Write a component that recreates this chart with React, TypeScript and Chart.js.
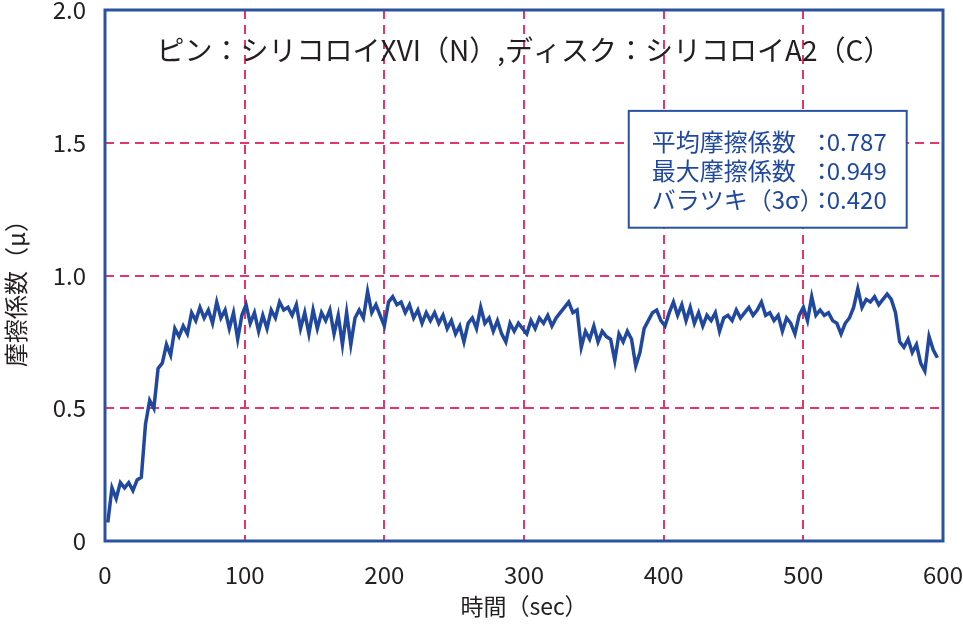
import { useEffect, useRef } from 'react';
import { Chart, registerables } from 'chart.js';

Chart.register(...registerables);

const TITLE = 'ピン：シリコロイXVI（N）,ディスク：シリコロイA2（C）';
const X_TITLE = '時間（sec）';
const Y_TITLE = '摩擦係数（μ）';
const X_TICKS = [0, 100, 200, 300, 400, 500, 600];
const Y_TICKS = [0, 0.5, 1.0, 1.5, 2.0];

// sampled every 3 sec from t = 2
const T_START = 2;
const T_STEP = 3;
const mu = [
  0.07, 0.20, 0.16, 0.22, 0.20, 0.22, 0.19, 0.23, 0.24, 0.44,
  0.53, 0.50, 0.65, 0.67, 0.74, 0.70, 0.80, 0.77, 0.81, 0.78,
  0.86, 0.83, 0.88, 0.84, 0.87, 0.82, 0.90, 0.84, 0.87, 0.80,
  0.86, 0.76, 0.85, 0.89, 0.82, 0.86, 0.79, 0.85, 0.80, 0.87,
  0.84, 0.90, 0.87, 0.88, 0.85, 0.89, 0.80, 0.86, 0.78, 0.87,
  0.80, 0.86, 0.83, 0.87, 0.78, 0.85, 0.74, 0.86, 0.74, 0.84,
  0.87, 0.84, 0.94, 0.86, 0.89, 0.85, 0.81, 0.90, 0.92, 0.89,
  0.90, 0.86, 0.89, 0.84, 0.87, 0.82, 0.86, 0.83, 0.86, 0.82,
  0.85, 0.80, 0.83, 0.78, 0.81, 0.75, 0.82, 0.84, 0.80, 0.88,
  0.82, 0.84, 0.79, 0.83, 0.78, 0.75, 0.82, 0.79, 0.82, 0.80,
  0.78, 0.83, 0.80, 0.84, 0.82, 0.85, 0.81, 0.84, 0.86, 0.88,
  0.90, 0.86, 0.87, 0.73, 0.79, 0.76, 0.81, 0.75, 0.79, 0.77,
  0.76, 0.68, 0.78, 0.75, 0.79, 0.76, 0.66, 0.71, 0.80, 0.83,
  0.86, 0.87, 0.83, 0.81, 0.86, 0.90, 0.85, 0.89, 0.83, 0.88,
  0.82, 0.86, 0.81, 0.85, 0.83, 0.86, 0.79, 0.84, 0.85, 0.83,
  0.87, 0.84, 0.86, 0.88, 0.85, 0.87, 0.90, 0.85, 0.86, 0.83,
  0.85, 0.79, 0.84, 0.82, 0.78, 0.85, 0.88, 0.83, 0.92, 0.85,
  0.87, 0.85, 0.86, 0.83, 0.82, 0.78, 0.82, 0.84, 0.88, 0.95,
  0.88, 0.91, 0.90, 0.92, 0.89, 0.91, 0.93, 0.91, 0.86, 0.75,
  0.73, 0.76, 0.71, 0.74, 0.67, 0.64, 0.77, 0.72, 0.69,
];

const infoLabels = ['平均摩擦係数', '最大摩擦係数', 'バラツキ（3σ）'];
const infoValues = ['0.787', '0.949', '0.420'];

const BLUE = '#1f489e';
const FRAME = '#2a52a2';
const GRID = '#e8346c';
const TEXT = '#231f20';
const FONT = "'Noto Sans CJK JP', 'Noto Sans', sans-serif";

const noPad = (s: any) => {
  s.paddingTop = 0;
  s.paddingBottom = 0;
  s.paddingLeft = 0;
  s.paddingRight = 0;
};

export default function App() {
  const canvasRef = useRef<HTMLCanvasElement>(null);
  const chartRef = useRef<Chart | null>(null);

  useEffect(() => {
    document.body.style.margin = '0';
    if (!canvasRef.current) return;
    chartRef.current?.destroy();

    const points = mu.map((v, i) => ({ x: T_START + i * T_STEP, y: v }));

    const overlay = {
      id: 'overlay',
      afterDatasetsDraw(chart: Chart) {
        const { ctx, chartArea: a, scales } = chart;
        ctx.save();
        // frame
        ctx.strokeStyle = FRAME;
        ctx.lineWidth = 3;
        ctx.strokeRect(a.left, a.top, a.right - a.left, a.bottom - a.top);
        // title inside plot
        ctx.fillStyle = TEXT;
        ctx.font = `28px ${FONT}`;
        ctx.textAlign = 'center';
        ctx.textBaseline = 'middle';
        ctx.fillText(TITLE, (a.left + a.right) / 2, a.top + 40);
        // y axis title (a bit below centre, as in the original)
        ctx.save();
        ctx.translate(16, (a.top + a.bottom) / 2 + 12);
        ctx.rotate(-Math.PI / 2);
        ctx.font = `24px ${FONT}`;
        ctx.fillText(Y_TITLE, 0, 0);
        ctx.restore();
        // info box
        const x0 = scales.x.getPixelForValue(375);
        const x1 = scales.x.getPixelForValue(574);
        const y0 = scales.y.getPixelForValue(1.62);
        const y1 = scales.y.getPixelForValue(1.18);
        ctx.fillStyle = '#ffffff';
        ctx.fillRect(x0, y0, x1 - x0, y1 - y0);
        ctx.strokeStyle = FRAME;
        ctx.lineWidth = 2;
        ctx.strokeRect(x0, y0, x1 - x0, y1 - y0);
        ctx.fillStyle = BLUE;
        ctx.font = `24px ${FONT}`;
        ctx.textBaseline = 'middle';
        infoLabels.forEach((lab, i) => {
          const y = y0 + 31 + i * 29;
          ctx.textAlign = 'left';
          ctx.fillText(lab, x0 + 23, y);
          ctx.textAlign = 'center';
          ctx.fillText('：', x0 + 193, y);
          ctx.textAlign = 'left';
          ctx.fillText(infoValues[i], x0 + 198, y);
        });
        ctx.restore();
      },
    };

    chartRef.current = new Chart(canvasRef.current, {
      type: 'line',
      data: {
        datasets: [{
          data: points,
          borderColor: BLUE,
          borderWidth: 3.5,
          pointRadius: 0,
          tension: 0,
          fill: false,
        }],
      },
      options: {
        responsive: false,
        animation: false,
        layout: { padding: { top: 10, right: 20, left: 0, bottom: 0 } },
        plugins: { legend: { display: false }, tooltip: { enabled: false } },
        scales: {
          x: {
            type: 'linear',
            min: 0,
            max: 600,
            afterBuildTicks: (s) => { s.ticks = X_TICKS.map((v) => ({ value: v })); },
            ticks: { color: TEXT, font: { family: FONT, size: 24 }, padding: 19, maxRotation: 0, callback: (v) => String(v) },
            grid: {
              drawTicks: false,
              lineWidth: 2,
              color: (c) => (c.tick && (c.tick.value === 0 || c.tick.value === 600) ? 'transparent' : GRID),
            },
            border: { display: false, dash: [9, 6] },
            title: { display: true, text: X_TITLE, color: TEXT, font: { family: FONT, size: 23 }, padding: { top: 0, bottom: 7 } },
            afterFit: (s) => { s.height = 86; noPad(s); },
          },
          y: {
            min: 0,
            max: 2,
            afterBuildTicks: (s) => { s.ticks = Y_TICKS.map((v) => ({ value: v })); },
            ticks: { color: TEXT, font: { family: FONT, size: 24 }, padding: 19, callback: (v) => (Number(v) === 0 ? '0' : Number(v).toFixed(1)) },
            grid: {
              drawTicks: false,
              lineWidth: 2,
              color: (c) => (c.tick && (c.tick.value === 0 || c.tick.value === 2) ? 'transparent' : GRID),
            },
            border: { display: false, dash: [9, 6] },
            title: { display: false },
            afterFit: (s) => { s.width = 105; noPad(s); },
          },
        },
      },
      plugins: [overlay],
    });
    return () => { chartRef.current?.destroy(); };
  }, []);

  return (
    <div style={{ width: 963, height: 627, background: '#fff' }}>
      <canvas ref={canvasRef} width={963} height={627} />
    </div>
  );
}
